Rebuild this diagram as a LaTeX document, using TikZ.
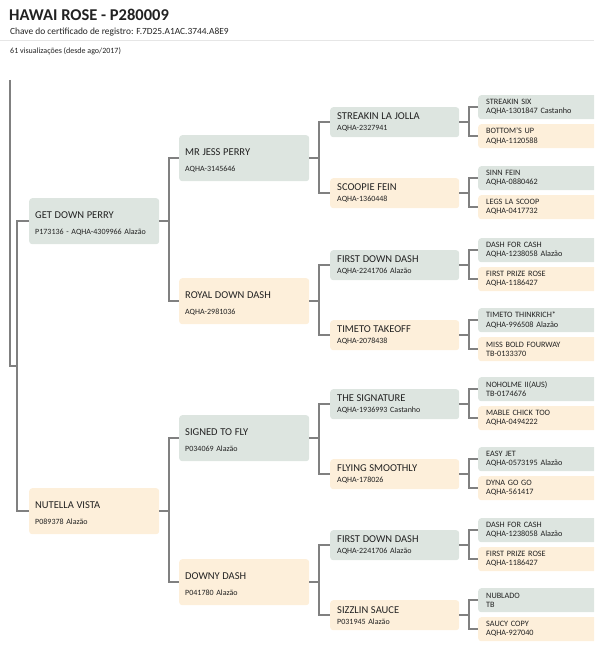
\documentclass[tikz,border=0pt]{standalone}
\usepackage{fontspec}
\setmainfont{Carlito}
\usetikzlibrary{calc}
\definecolor{sirefill}{HTML}{DDE5E0}
\definecolor{damfill}{HTML}{FDEFDA}
\definecolor{wirecol}{HTML}{808080}
\definecolor{ink}{HTML}{222222}
\definecolor{rulecol}{HTML}{E6E6E6}
\newcommand\horse[2]{{\fontsize{10.5}{10.5}\selectfont #1}\\#2}
\newcommand\anc[2]{#1\\#2}
\begin{document}
\begin{tikzpicture}[x=1pt,y=-1pt,
  wire/.style={draw=wirecol,line width=1.8pt},
  cell/.style={rounded corners=3pt,anchor=north west,align=left,text=ink,inner ysep=0pt},
  young/.style={cell,text width=118pt,inner xsep=6pt,minimum height=46pt,text height=11pt,font=\fontsize{8}{16}\selectfont},
  older/.style={cell,text width=115pt,inner xsep=7pt,minimum height=30pt,font=\fontsize{8}{11}\selectfont},
  oldest/.style={cell,text width=114pt,inner xsep=8pt,minimum height=24pt,font=\fontsize{8.2}{9.3}\selectfont},
  sire/.style={fill=sirefill},
  dam/.style={fill=damfill}]
\useasboundingbox (0,0) rectangle (594,647);
\clip (0,0) rectangle (594,647);
% heading
\node[anchor=base west,inner sep=0pt,text=ink,font=\fontsize{16.5}{16.5}\bfseries\selectfont] (title) at (9,21) {HAWAI ROSE - P280009};
\node[anchor=base west,inner sep=0pt,text=ink,font=\fontsize{9.4}{9.4}\selectfont] (key) at (10,35) {Chave do certificado de registro: F.7D25.A1AC.3744.A8E9};
\draw[rulecol,line width=0.8pt] (0,40) -- (594,40);
\node[anchor=base west,inner sep=0pt,text=ink,font=\fontsize{8}{8}\selectfont] (views) at (10,54) {61 visualizações (desde ago/2017)};
% parents
\node[young,sire] (gdp) at (29,198) {\horse{GET DOWN PERRY}{P173136 - AQHA-4309966 Alazão}};
\node[young,dam] (nv) at (29,488) {\horse{NUTELLA VISTA}{P089378 Alazão}};
% grandparents
\node[young,sire] (mjp) at (179,135) {\horse{MR JESS PERRY}{AQHA-3145646}};
\node[young,dam] (rdd) at (179,278) {\horse{ROYAL DOWN DASH}{AQHA-2981036}};
\node[young,sire] (stf) at (179,415) {\horse{SIGNED TO FLY}{P034069 Alazão}};
\node[young,dam] (dd) at (179,559) {\horse{DOWNY DASH}{P041780 Alazão}};
% great grandparents
\node[older,sire] (slj) at (330,107) {\horse{STREAKIN LA JOLLA}{AQHA-2327941}};
\node[older,dam] (sf) at (330,178) {\horse{SCOOPIE FEIN}{AQHA-1360448}};
\node[older,sire] (fdd) at (330,250) {\horse{FIRST DOWN DASH}{AQHA-2241706 Alazão}};
\node[older,dam] (tt) at (330,320) {\horse{TIMETO TAKEOFF}{AQHA-2078438}};
\node[older,sire] (ts) at (330,389) {\horse{THE SIGNATURE}{AQHA-1936993 Castanho}};
\node[older,dam] (fs) at (330,459) {\horse{FLYING SMOOTHLY}{AQHA-178026}};
\node[older,sire] (fdd2) at (330,530) {\horse{FIRST DOWN DASH}{AQHA-2241706 Alazão}};
\node[older,dam] (ss) at (330,600) {\horse{SIZZLIN SAUCE}{P031945 Alazão}};
% last row
\node[oldest,sire] (s6) at (478,95) {\anc{STREAKIN SIX}{AQHA-1301847 Castanho}};
\node[oldest,dam] (bu) at (478,124) {\anc{BOTTOM'S UP}{AQHA-1120588}};
\node[oldest,sire] (snf) at (478,166) {\anc{SINN FEIN}{AQHA-0880462}};
\node[oldest,dam] (lls) at (478,195) {\anc{LEGS LA SCOOP}{AQHA-0417732}};
\node[oldest,sire] (dfc) at (478,238) {\anc{DASH FOR CASH}{AQHA-1238058 Alazão}};
\node[oldest,dam] (fpr) at (478,267) {\anc{FIRST PRIZE ROSE}{AQHA-1186427}};
\node[oldest,sire] (ttr) at (478,308) {\anc{TIMETO THINKRICH*}{AQHA-996508 Alazão}};
\node[oldest,dam] (mbf) at (478,337) {\anc{MISS BOLD FOURWAY}{TB-0133370}};
\node[oldest,sire] (nh) at (478,377) {\anc{NOHOLME II(AUS)}{TB-0174676}};
\node[oldest,dam] (mct) at (478,406) {\anc{MABLE CHICK TOO}{AQHA-0494222}};
\node[oldest,sire] (ej) at (478,447) {\anc{EASY JET}{AQHA-0573195 Alazão}};
\node[oldest,dam] (dgg) at (478,476) {\anc{DYNA GO GO}{AQHA-561417}};
\node[oldest,sire] (dfc2) at (478,518) {\anc{DASH FOR CASH}{AQHA-1238058 Alazão}};
\node[oldest,dam] (fpr2) at (478,547) {\anc{FIRST PRIZE ROSE}{AQHA-1186427}};
\node[oldest,sire] (nb) at (478,588) {\anc{NUBLADO}{TB}};
\node[oldest,dam] (sc) at (478,617) {\anc{SAUCY COPY}{AQHA-927040}};
% lines
\coordinate (top) at (10,80);
\coordinate (fork) at (17,366);
\draw[wire] (top) |- (fork);
\draw[wire] (fork) |- (gdp.west) (fork) |- (nv.west);
\foreach \p/\s/\d in {gdp/mjp/rdd,nv/stf/dd,mjp/slj/sf,rdd/fdd/tt,stf/ts/fs,dd/fdd2/ss,
  slj/s6/bu,sf/snf/lls,fdd/dfc/fpr,tt/ttr/mbf,ts/nh/mct,fs/ej/dgg,fdd2/dfc2/fpr2,ss/nb/sc}
  \draw[wire] (\p.east) -- ++(9.5,0) |- (\s.west) (\p.east) -- ++(9.5,0) |- (\d.west);
\end{tikzpicture}
\end{document}
